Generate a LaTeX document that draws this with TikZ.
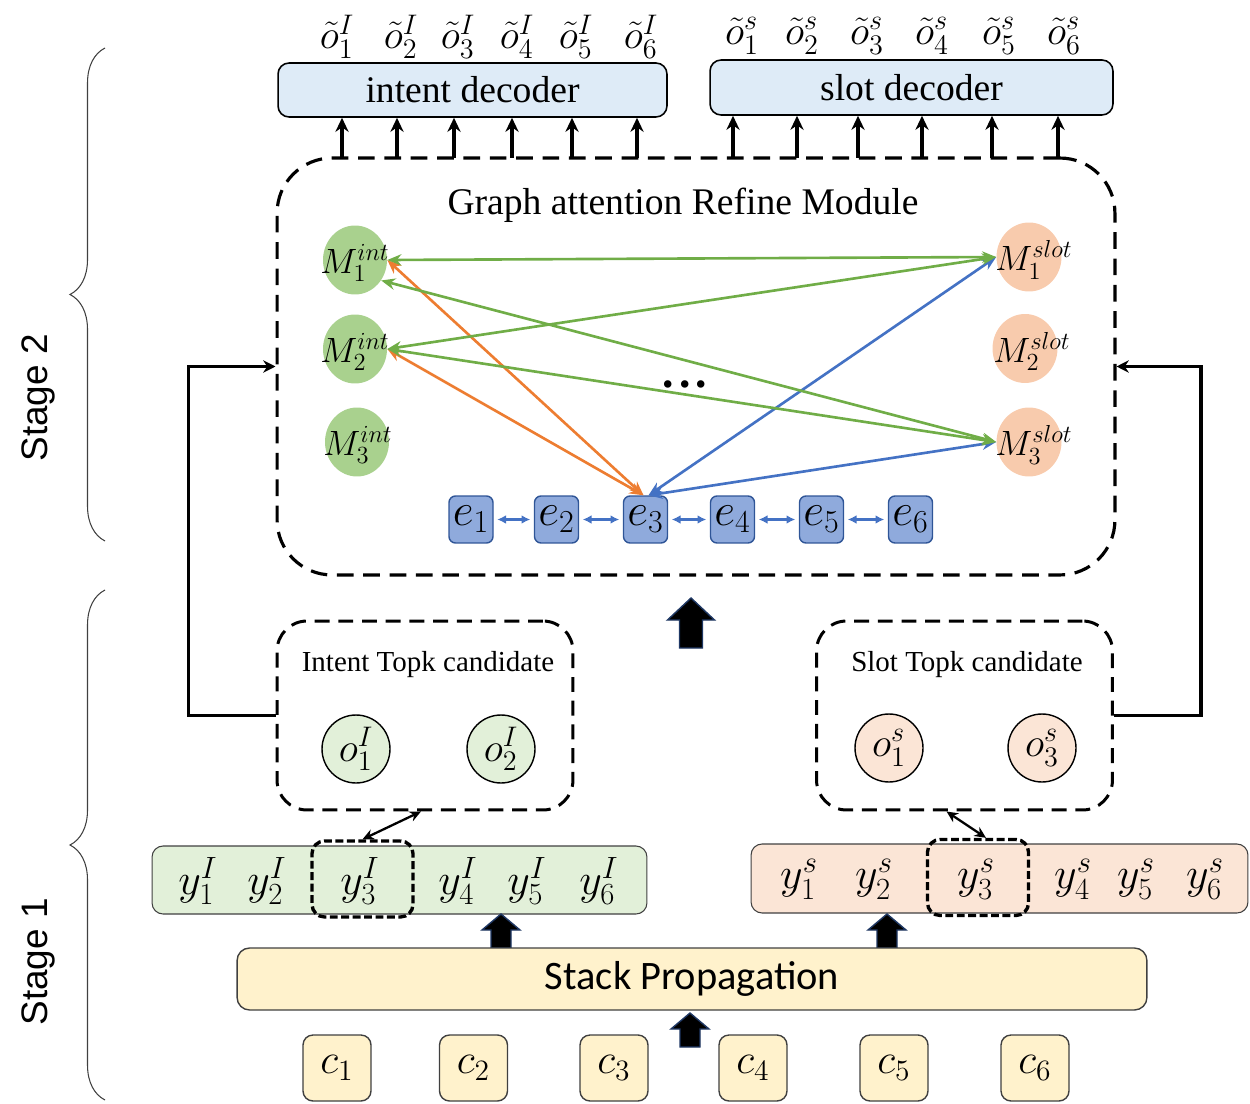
\RequirePackage{fix-cm}
\documentclass[tikz,border=0pt]{standalone}
\usepackage[no-math]{fontspec}
\setmainfont{Liberation Serif}
\newfontfamily\stagefont{Liberation Sans}
\newfontfamily\calibfont{Carlito}
\usetikzlibrary{shapes.geometric,arrows.meta,decorations.pathreplacing,calc}
\definecolor{decblue}{HTML}{DEEBF7}
\definecolor{mgreen}{HTML}{A9D18E}
\definecolor{mpeach}{HTML}{F8CBAD}
\definecolor{eblue}{HTML}{8FAADC}
\definecolor{eborder}{HTML}{2F5597}
\definecolor{lgreen}{HTML}{E2F0D9}
\definecolor{lpeach}{HTML}{FBE5D6}
\definecolor{lyellow}{HTML}{FFF2CC}
\definecolor{agreen}{HTML}{70AD47}
\definecolor{aorange}{HTML}{ED7D31}
\definecolor{ablue}{HTML}{4472C4}
\definecolor{arrowedge}{HTML}{1F3864}
\definecolor{bordgray}{HTML}{404040}
\tikzset{
  dec/.style={draw=black, line width=0.9pt, rounded corners=0.22cm, fill=decblue, inner sep=0pt,
    font=\fontsize{21.4}{24}\selectfont},
  olab/.style={inner sep=0pt, font=\fontsize{23}{25}\selectfont},
  modbox/.style={draw=black, line width=1.8pt, dash pattern=on 9.5pt off 5.5pt, rounded corners=1.1cm,
    minimum width=16.76cm, minimum height=8.34cm, inner sep=0pt},
  modtitle/.style={inner sep=0pt, font=\fontsize{21.4}{24}\selectfont},
  uparr/.style={line width=1.8pt, arrows={-Stealth[length=8pt,width=7.5pt]}},
  gnode/.style={ellipse, fill=mgreen, minimum width=1.28cm, minimum height=1.38cm, inner sep=0pt},
  snode/.style={ellipse, fill=mpeach, minimum width=1.3cm, minimum height=1.38cm, inner sep=0pt},
  mlab/.style={inner sep=0pt, font=\fontsize{20}{22}\selectfont},
  ebox/.style={draw=eborder, line width=0.8pt, fill=eblue, rounded corners=0.13cm, minimum width=0.88cm,
    minimum height=0.94cm, inner sep=0pt, font=\fontsize{26}{28}\selectfont},
  earr/.style={draw=ablue, line width=1.2pt, shorten >=2pt, shorten <=2pt,
    arrows={Latex[length=5pt,width=5pt]-Latex[length=5pt,width=5pt]}},
  garr/.style={draw=agreen, line width=1.5pt, arrows={Stealth[length=8pt,width=6.5pt]-Stealth[length=8pt,width=6.5pt]}},
  oarr/.style={draw=aorange, line width=1.5pt, arrows={Stealth[length=8pt,width=6.5pt]-Stealth[length=8pt,width=6.5pt]}},
  barr/.style={draw=ablue, line width=1.5pt, arrows={Stealth[length=8pt,width=6.5pt]-Stealth[length=8pt,width=6.5pt]}},
  fb/.style={line width=1.8pt, arrows={-Stealth[length=7pt,width=7pt]}},
  tbox/.style={draw=black, line width=1.7pt, dash pattern=on 8.5pt off 5pt, rounded corners=0.6cm,
    minimum width=5.92cm, minimum height=3.78cm, inner sep=0pt},
  ttitle/.style={inner sep=0pt, font=\fontsize{16.5}{19}\selectfont},
  ocirc/.style={circle, draw=black, line width=0.8pt, minimum size=1.36cm, inner sep=0pt,
    font=\fontsize{23}{25}\selectfont},
  ybar/.style={draw=bordgray, line width=0.6pt, rounded corners=0.22cm, inner sep=0pt},
  y3box/.style={draw=black, line width=1.9pt, dash pattern=on 4.5pt off 2pt, rounded corners=0.25cm,
    minimum width=2.02cm, minimum height=1.52cm, inner sep=0pt},
  ylab/.style={inner sep=0pt, font=\fontsize{25}{27}\selectfont},
  dblk/.style={line width=1.3pt, arrows={Stealth[length=6.5pt,width=6pt]-Stealth[length=6.5pt,width=6pt]}},
  stackbox/.style={draw=bordgray, line width=0.8pt, fill=lyellow, rounded corners=0.25cm,
    minimum width=18.2cm, minimum height=1.24cm, inner sep=0pt, font=\calibfont\fontsize{23}{26}\selectfont},
  cbox/.style={draw=bordgray, line width=0.8pt, fill=lyellow, rounded corners=0.2cm,
    minimum width=1.36cm, minimum height=1.32cm, inner sep=0pt, font=\fontsize{24}{26}\selectfont},
  stagelab/.style={rotate=90, inner sep=0pt, font=\stagefont\fontsize{21}{24}\selectfont},
  bracest/.style={draw=bordgray, line width=0.6pt, decorate, decoration={brace, amplitude=0.7cm}},
  bigup/.pic={\filldraw[fill=black, draw=arrowedge, line width=0.8pt, line join=miter]
    (0,0) -- (23.5,22) -- (11.5,22) -- (11.5,50) -- (-11.5,50) -- (-11.5,22) -- (-23.5,22) -- cycle;},
  smallup/.pic={\filldraw[fill=black, draw=arrowedge, line width=0.8pt, line join=miter]
    (0,0) -- (19,16) -- (10,16) -- (10,34) -- (-10,34) -- (-10,16) -- (-19,16) -- cycle;}
}
\begin{document}
\begin{tikzpicture}[x=0.02cm, y=-0.02cm]
\useasboundingbox (0,0) rectangle (1250,1104);

% ---------- braces and stage labels ----------
\draw[bracest] (105,541) -- (105,48);
\node[stagelab] (st2) at (38,398) {Stage 2};
\draw[bracest] (105,1100) -- (105,590);
\node[stagelab] (st1) at (38,962) {Stage 1};

% ---------- decoders ----------
\node[dec, minimum width=7.78cm, minimum height=1.08cm] (idec) at (472.5,90) {intent decoder};
\node[dec, minimum width=8.06cm, minimum height=1.1cm] (sdec) at (911.5,87.5) {slot decoder};
\foreach \x [count=\i] in {337,401,458,517,576,641}
  \node[olab] (oti\i) at (\x,37) {$\tilde{o}^{I}_{\i}$};
\foreach \x [count=\i] in {742,802,867,932,999,1064}
  \node[olab] (ots\i) at (\x,36) {$\tilde{o}^{s}_{\i}$};

% ---------- graph attention module ----------
\node[modbox] (gam) at (696,366.5) {};
\node[modtitle] (gamt) at (683,205) {Graph attention Refine Module};

\foreach \x [count=\i] in {342,397,454,512,572,637} {
  \coordinate (ai\i) at (\x,158);
  \draw[uparr] (ai\i) -- (ai\i |- idec.south);
}
\foreach \x [count=\i] in {733,797,858,922,992,1058} {
  \coordinate (as\i) at (\x,158);
  \draw[uparr] (as\i) -- (as\i |- sdec.south);
}

\node[gnode] (M1i) at (355,260) {};
\node[gnode] (M2i) at (355,349) {};
\node[gnode] (M3i) at (357,442) {};
\node[snode] (M1s) at (1029,257) {};
\node[snode] (M2s) at (1025,348.5) {};
\node[snode] (M3s) at (1029,442) {};
\node[mlab] (M1it) at (355,263) {$M_1^{int}$};
\node[mlab] (M2it) at (355,352) {$M_2^{int}$};
\node[mlab] (M3it) at (358,445) {$M_3^{int}$};
\node[mlab] (M1st) at (1034,260) {$M_1^{slot}$};
\node[mlab] (M2st) at (1032,351.5) {$M_2^{slot}$};
\node[mlab] (M3st) at (1034,445) {$M_3^{slot}$};

\foreach \x [count=\i] in {471,556.5,645.5,732.5,821.5,910.5}
  \node[ebox] (e\i) at (\x,519.5) {$e_{\i}$};
\foreach \i/\j in {1/2,2/3,3/4,4/5,5/6}
  \draw[earr] (e\i.east) -- (e\j.west);

\node[inner sep=0pt, font=\bfseries\fontsize{26}{28}\selectfont] (dots) at (685,384) {.\hspace{3pt}.\hspace{3pt}.};

\draw[oarr] (M1i.east) -- ($(e3.north)+(-2,0)$);
\draw[oarr] (M2i.east) -- ($(e3.north)+(-2,0)$);
\draw[barr] ($(e3.north)+(3,0)$) -- (M1s.west);
\draw[barr] ($(e3.north)+(3,0)$) -- (M3s.west);
\draw[garr] (M1i.east) -- (M1s.west);
\draw[garr] (M2i.east) -- (M1s.west);
\draw[garr] (M1i.-38) -- (M3s.west);
\draw[garr] (M2i.east) -- (M3s.west);

\pic (bigarr) at (691,598) {bigup};

% ---------- top-k candidates ----------
\node[tbox] (itop) at (425,715.5) {};
\node[ttitle] (itopt) at (428,665) {Intent Topk candidate};
\node[ocirc, fill=lgreen] (o1i) at (356,749) {$o^{I}_{1}$};
\node[ocirc, fill=lgreen] (o2i) at (501,749) {$o^{I}_{2}$};

\node[tbox] (stop) at (964.5,715.5) {};
\node[ttitle] (stopt) at (967,665) {Slot Topk candidate};
\node[ocirc, fill=lpeach] (o1s) at (889,748) {$o^{s}_{1}$};
\node[ocirc, fill=lpeach] (o3s) at (1042,748) {$o^{s}_{3}$};

\draw[fb] (itop.west) -- ++(-87,0) |- (gam.west);
\draw[fb] (stop.east) -- ++(87,0) |- (gam.east);

% ---------- stage 1 outputs ----------
\node[ybar, fill=lgreen, minimum width=9.9cm, minimum height=1.36cm] (ybi) at (399.5,880) {};
\node[ybar, fill=lpeach, minimum width=9.94cm, minimum height=1.38cm] (ybs) at (999.5,878.5) {};
\node[y3box] (iy3) at (362.5,879) {};
\node[y3box] (sy3) at (978,877.5) {};
\foreach \x [count=\i] in {198,267,360,458,527,599}
  \node[ylab] (yi\i) at (\x,881) {$y^{I}_{\i}$};
\foreach \x [count=\i] in {799,874,976,1073,1136,1205}
  \node[ylab] (ys\i) at (\x,879) {$y^{s}_{\i}$};

\draw[dblk] ($(itop.south)+(-4,0)$) -- (iy3.north);
\draw[dblk] ($(stop.south)+(-18,0)$) -- ($(sy3.north)+(8,0)$);

\pic (yiarr) at (501,914) {smallup};
\pic (ysarr) at (887,914) {smallup};

% ---------- stack propagation ----------
\node[stackbox] (stack) at (692,979) {Stack Propagation};
\pic (carr) at (690,1013) {smallup};
\foreach \x [count=\i] in {337,473.5,614,753,894,1035}
  \node[cbox] (c\i) at (\x,1068) {$c_{\i}$};
\end{tikzpicture}
\end{document}
